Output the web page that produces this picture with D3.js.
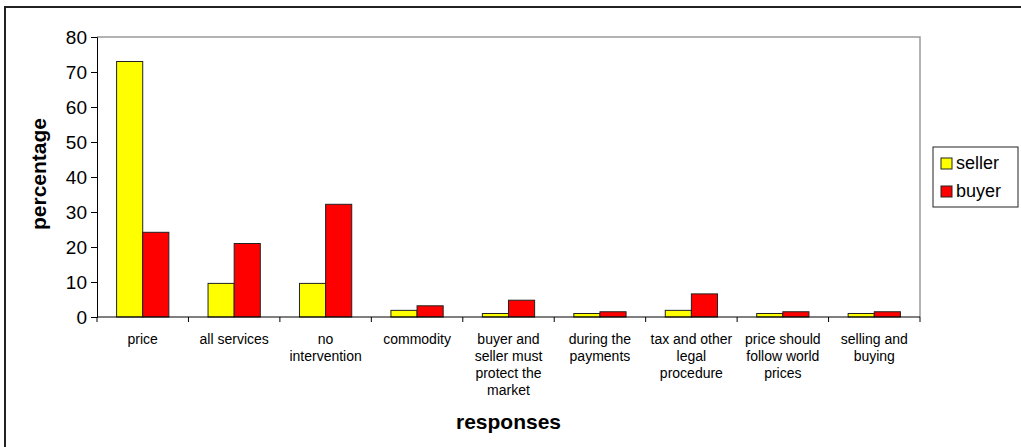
<!DOCTYPE html>
<html>
<head>
<meta charset="utf-8">
<script src="https://cdn.jsdelivr.net/npm/d3@7"></script>
<style>
  html, body { margin: 0; padding: 0; background: #fff; }
  svg { display: block; font-family: "Liberation Sans", Arial, sans-serif; }
</style>
</head>
<body>
<svg id="chart" width="1021" height="447"></svg>
<script>
// Responses by group (percentage)
const categories = [
  "price",
  "all services",
  "no\nintervention",
  "commodity",
  "buyer and\nseller must\nprotect the\nmarket",
  "during the\npayments",
  "tax and other\nlegal\nprocedure",
  "price should\nfollow world\nprices",
  "selling and\nbuying"
];
const seriesNames = ["seller", "buyer"];
const sellerValues = [73, 9.6, 9.6, 1.9, 1.0, 1.0, 1.9, 1.0, 1.0];
const buyerValues = [24.2, 21, 32.2, 3.2, 4.8, 1.5, 6.6, 1.5, 1.5];
const yTicks = [0, 10, 20, 30, 40, 50, 60, 70, 80];
const colors = { seller: "#ffff00", buyer: "#ff0000" };

const svg = d3.select("#chart");
const W = 1021, H = 447;
const plot = { left: 97, right: 920, top: 37, bottom: 317 };

// chart frame
svg.append("rect")
  .attr("x", 5).attr("y", 7)
  .attr("width", W + 20).attr("height", H + 20)
  .attr("fill", "#fff").attr("stroke", "#222").attr("stroke-width", 2);

const x0 = d3.scaleBand().domain(categories).range([plot.left, plot.right]).padding(0);
const step = x0.bandwidth();
const barW = step / 3.5;
const off = (step - 2 * barW) / 2;
const x1 = d3.scaleBand().domain(seriesNames).range([off, off + 2 * barW]).padding(0);
const y = d3.scaleLinear().domain([0, 80]).range([plot.bottom, plot.top]);

// plot area border (top/right)
svg.append("path")
  .attr("d", `M${plot.left},${plot.top}H${plot.right}V${plot.bottom}`)
  .attr("fill", "none").attr("stroke", "#9a9a9a").attr("stroke-width", 1.5);

// bars
const rows = categories.map((c, i) => ({ cat: c, seller: sellerValues[i], buyer: buyerValues[i] }));
const groups = svg.append("g").selectAll("g").data(rows).join("g")
  .attr("transform", d => `translate(${x0(d.cat)},0)`);
groups.selectAll("rect")
  .data(d => seriesNames.map(s => ({ key: s, value: d[s] })))
  .join("rect")
  .attr("x", d => x1(d.key))
  .attr("y", d => y(d.value))
  .attr("width", x1.bandwidth())
  .attr("height", d => y(0) - y(d.value))
  .attr("fill", d => colors[d.key])
  .attr("stroke", "#222").attr("stroke-width", 1);

// y axis
const yAxis = svg.append("g")
  .attr("transform", `translate(${plot.left},0)`)
  .call(d3.axisLeft(y).tickValues(yTicks).tickSize(6).tickPadding(4));
yAxis.select(".domain").attr("stroke", "#000").attr("stroke-width", 1);
yAxis.selectAll(".tick line").attr("stroke", "#000");
yAxis.selectAll(".tick text")
  .attr("font-size", 19).attr("fill", "#000")
  .attr("font-family", "Liberation Sans, Arial, sans-serif");

// x axis: tick marks on category boundaries
const bounds = categories.map(c => x0(c)).concat([plot.right]);
svg.append("line")
  .attr("x1", plot.left).attr("x2", plot.right)
  .attr("y1", plot.bottom).attr("y2", plot.bottom)
  .attr("stroke", "#000");
svg.append("g").selectAll("line").data(bounds).join("line")
  .attr("x1", d => d).attr("x2", d => d)
  .attr("y1", plot.bottom).attr("y2", plot.bottom + 5)
  .attr("stroke", "#000");

// category labels
const labels = svg.append("g").selectAll("text").data(categories).join("text")
  .attr("x", d => x0(d) + step / 2)
  .attr("y", 344)
  .attr("text-anchor", "middle")
  .attr("font-size", 14).attr("fill", "#000");
labels.selectAll("tspan").data(d => d.split("\n")).join("tspan")
  .attr("x", function () { return this.parentNode.getAttribute("x"); })
  .attr("dy", (d, i) => i === 0 ? 0 : 17)
  .text(d => d);

// axis titles
svg.append("text")
  .attr("x", (plot.left + plot.right) / 2).attr("y", 429)
  .attr("text-anchor", "middle")
  .attr("font-size", 21).attr("font-weight", "bold")
  .text("responses");
svg.append("text")
  .attr("transform", `translate(46,174) rotate(-90)`)
  .attr("text-anchor", "middle")
  .attr("font-size", 21).attr("font-weight", "bold")
  .text("percentage");

// legend
const lg = svg.append("g");
lg.append("rect")
  .attr("x", 933).attr("y", 147).attr("width", 85).attr("height", 60)
  .attr("fill", "#fff").attr("stroke", "#222").attr("stroke-width", 1);
const items = lg.selectAll("g").data(seriesNames).join("g")
  .attr("transform", (d, i) => `translate(941,${158 + i * 28})`);
items.append("rect")
  .attr("width", 11).attr("height", 11)
  .attr("fill", d => colors[d]).attr("stroke", "#222");
items.append("text")
  .attr("x", 15).attr("y", 11)
  .attr("font-size", 18)
  .text(d => d);
</script>
</body>
</html>
